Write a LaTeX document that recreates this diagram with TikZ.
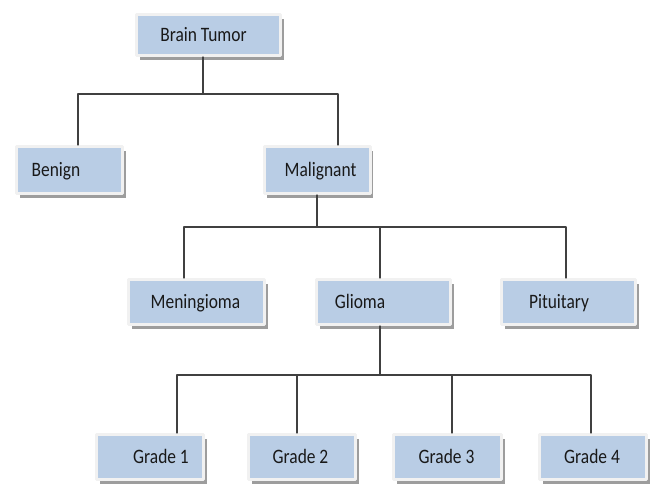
\documentclass[tikz,border=0pt]{standalone}
\usepackage{fontspec}
\setmainfont{Carlito}
\usetikzlibrary{shadows}
\definecolor{boxblue}{RGB}{185,205,229}
\definecolor{framegray}{RGB}{241,241,241}
\definecolor{linegray}{RGB}{64,64,64}
\newcommand\sqz[1]{\scalebox{0.85}[1]{#1}}

\begin{document}
\begin{tikzpicture}[line cap=round,line join=round,x=1pt,y=-1pt,
  cell/.style={rectangle,fill=boxblue,draw=framegray,line width=3pt,inner sep=0pt,
    drop shadow={shadow xshift=3pt,shadow yshift=-4.5pt,fill=black!70,opacity=0.55}},
  lbl/.style={inner sep=0pt,text height=13pt,text depth=0pt,text=black!90,font=\fontsize{20.5}{24}\selectfont},
  link/.style={line width=1.3pt,color=linegray}]
\useasboundingbox (0,0) rectangle (652,484);
% boxes
\node[cell,minimum width=144,minimum height=41] (bt) at (208.5,35) {};
\node[cell,minimum width=106,minimum height=47] (benign) at (69.5,170) {};
\node[cell,minimum width=106,minimum height=47] (malig) at (317,170) {};
\node[cell,minimum width=136,minimum height=45] (menin) at (196.5,302) {};
\node[cell,minimum width=134,minimum height=45] (glioma) at (383.5,302) {};
\node[cell,minimum width=134,minimum height=45] (pitu) at (568.5,302) {};
\node[cell,minimum width=107,minimum height=45] (g1) at (150,457) {};
\node[cell,minimum width=107,minimum height=45] (g2) at (302,457) {};
\node[cell,minimum width=108,minimum height=45] (g3) at (447.5,457) {};
\node[cell,minimum width=107,minimum height=45] (g4) at (593,457) {};
% texts
\node[lbl] (bt-t) at (203.5,35) {\sqz{Brain Tumor}};
\node[lbl] (benign-t) at (56,170) {\sqz{Benign}};
\node[lbl] (malig-t) at (320.5,170) {\sqz{Malignant}};
\node[lbl] (menin-t) at (195.5,302) {\sqz{Meningioma}};
\node[lbl] (glioma-t) at (360,302) {\sqz{Glioma}};
\node[lbl] (pitu-t) at (559,302) {\sqz{Pituitary}};
\node[lbl] (g1-t) at (161,457) {\sqz{Grade 1}};
\node[lbl] (g2-t) at (300.5,457) {\sqz{Grade 2}};
\node[lbl] (g3-t) at (446.5,457) {\sqz{Grade 3}};
\node[lbl] (g4-t) at (592,457) {\sqz{Grade 4}};
% connectors
\coordinate (bus1) at (203,94);
\coordinate (bus2) at (317,227);
\coordinate (bus3) at (380,375);
\draw[link] ([xshift=-5.5pt]bt.south) -- (bus1);
\draw[link] ([xshift=8.5pt]benign.north) |- (bus1);
\draw[link] ([xshift=21pt]malig.north) |- (bus1);
\draw[link] (malig.south) -- (bus2);
\draw[link] ([xshift=-12.5pt]menin.north) |- (bus2);
\draw[link] ([xshift=-3.5pt]glioma.north) |- (bus2);
\draw[link] ([xshift=-2.5pt]pitu.north) |- (bus2);
\draw[link] ([xshift=-3.5pt]glioma.south) -- (bus3);
\draw[link] ([xshift=27pt]g1.north) |- (bus3);
\draw[link] ([xshift=-5pt]g2.north) |- (bus3);
\draw[link] ([xshift=4.5pt]g3.north) |- (bus3);
\draw[link] ([xshift=-2pt]g4.north) |- (bus3);
\end{tikzpicture}
\end{document}
